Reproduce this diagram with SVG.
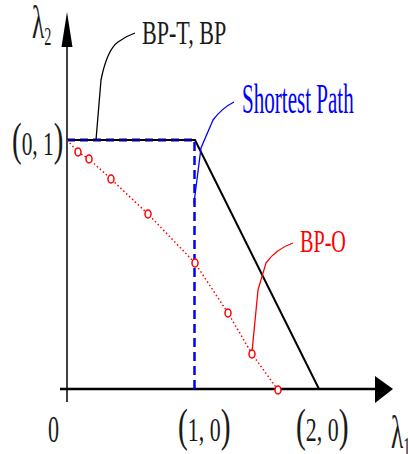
<svg xmlns="http://www.w3.org/2000/svg" width="408" height="454" viewBox="0 0 408 454">
<style>
text{font-family:"Liberation Serif","Times New Roman",serif;}
.lbl{fill:#1a1a1a;}
.p{font-size:46px;}
.d{font-size:34px;}
.ax{stroke:#000;fill:none;}
.circ{fill:#fff;stroke:#ff0000;stroke-width:1.5;}
</style>
<rect width="408" height="454" fill="#fff"/>
<g id="axes">
<line class="ax" x1="67" y1="45" x2="67" y2="402" stroke-width="1.5"/>
<polygon points="67,12 61.5,47 72.5,47" fill="#000"/>
<line class="ax" x1="60" y1="389" x2="377" y2="389" stroke-width="2.6"/>
<polygon points="393,389 375,376 375,403" fill="#000"/>
</g>
<g id="connectors">
<polyline id="bp-t-bp" points="67,140 195,140 319,389" fill="none" stroke="#000" stroke-width="2"/>
<line id="shortest-h" x1="67" y1="140" x2="195" y2="140" stroke="#00008b" stroke-width="3" stroke-dasharray="8,5"/>
<line id="shortest-v" x1="194.5" y1="142" x2="194.5" y2="389" stroke="#0000ff" stroke-width="2.5" stroke-dasharray="9,5"/>
<polyline id="bp-o" points="67,140 78,152 89,159 111,179 148,214 195,263 228,313 252,354 278,390" fill="none" stroke="#ff0000" stroke-width="1.5" stroke-dasharray="1.5,2.5"/>
<path id="lead-bpt" d="M96,140 L101,80 Q107,50 118,42 Q126,36 135,33" fill="none" stroke="#000" stroke-width="1.3"/>
<path id="lead-sp" d="M194,203 L201,148 L213,120 Q222,108 234,102" fill="none" stroke="#0000ff" stroke-width="1.3"/>
<path id="lead-bpo" d="M252,352 L258,290 L266,263 Q276,249 293,243" fill="none" stroke="#ff0000" stroke-width="1.3"/>
</g>
<g id="bp-o-points">
<ellipse class="circ" cx="78" cy="152" rx="3" ry="4"/>
<ellipse class="circ" cx="89" cy="159" rx="3" ry="4"/>
<ellipse class="circ" cx="111" cy="179" rx="3" ry="4"/>
<ellipse class="circ" cx="148" cy="214" rx="3" ry="4"/>
<ellipse class="circ" cx="195" cy="263" rx="3" ry="4"/>
<ellipse class="circ" cx="228" cy="313" rx="3" ry="4"/>
<ellipse class="circ" cx="252" cy="354" rx="3" ry="4"/>
<ellipse class="circ" cx="278" cy="390" rx="3" ry="4"/>
</g>
<g id="label-bpt"><text class="lbl" transform="translate(142,44) scale(0.65,1)" font-size="34">BP-T, BP</text></g>
<g id="label-sp"><text fill="#0000ff" transform="translate(242,113) scale(0.49,1)" font-size="43">Shortest Path</text></g>
<g id="label-bpo"><text fill="#ff0000" transform="translate(300,252) scale(0.63,1)" font-size="32">BP-O</text></g>
<g id="label-l2"><text class="lbl" transform="translate(32,38) scale(0.55,1)" font-size="46">λ<tspan font-size="26" dy="7">2</tspan></text></g>
<g id="label-01"><text class="lbl" transform="translate(12,155) scale(0.63,1)"><tspan class="p">(</tspan><tspan class="d">0, 1</tspan><tspan class="p">)</tspan></text></g>
<g id="label-0"><text class="lbl" transform="translate(48,442) scale(0.58,1)" font-size="38">0</text></g>
<g id="label-10"><text class="lbl" transform="translate(178,441) scale(0.643,1)"><tspan class="p">(</tspan><tspan class="d">1, 0</tspan><tspan class="p">)</tspan></text></g>
<g id="label-20"><text class="lbl" transform="translate(296,441) scale(0.643,1)"><tspan class="p">(</tspan><tspan class="d">2, 0</tspan><tspan class="p">)</tspan></text></g>
<g id="label-l1"><text class="lbl" transform="translate(391,448) scale(0.55,1)" font-size="46">λ<tspan font-size="26" dy="7">1</tspan></text></g>
</svg>
